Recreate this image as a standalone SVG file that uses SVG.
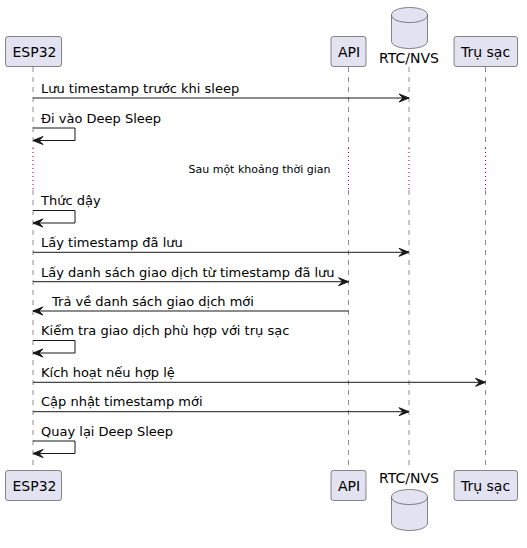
<svg xmlns="http://www.w3.org/2000/svg" width="527" height="548" viewBox="0 0 527 548">
<defs>
<style>
.box{fill:#E2E2F0;stroke:#181818;stroke-width:0.5}
.pt{font-family:"DejaVu Sans",sans-serif;font-size:14px;fill:#000}
.mt{font-family:"DejaVu Sans",sans-serif;font-size:13px;fill:#000}
.dt{font-family:"DejaVu Sans",sans-serif;font-size:11px;fill:#000}
.life{stroke:#181818;stroke-width:0.5;stroke-dasharray:5,5;fill:none}
.delay{stroke:#A80036;stroke-width:1;stroke-dasharray:1,3;fill:none}
.msg{stroke:#181818;stroke-width:1;fill:none}
.head{fill:#181818;stroke:#181818;stroke-width:1}
</style>
<marker id="ah" viewBox="0 0 12 10" refX="11" refY="5" markerWidth="12" markerHeight="10" markerUnits="userSpaceOnUse" orient="auto">
<polygon points="1,1 11,5 1,9 5,5" class="head"/>
</marker>
</defs>
<rect width="527" height="548" fill="#FFFFFF"/>
<g id="lifelines">
<line class="life" x1="33" y1="67" x2="33" y2="148"/><line class="delay" x1="33" y1="148" x2="33" y2="190"/><line class="life" x1="33" y1="190" x2="33" y2="470"/>
<line class="life" x1="348.5" y1="67" x2="348.5" y2="148"/><line class="delay" x1="348.5" y1="148" x2="348.5" y2="190"/><line class="life" x1="348.5" y1="190" x2="348.5" y2="470"/>
<line class="life" x1="409" y1="67" x2="409" y2="148"/><line class="delay" x1="409" y1="148" x2="409" y2="190"/><line class="life" x1="409" y1="190" x2="409" y2="470"/>
<line class="life" x1="485.5" y1="67" x2="485.5" y2="148"/><line class="delay" x1="485.5" y1="148" x2="485.5" y2="190"/><line class="life" x1="485.5" y1="190" x2="485.5" y2="470"/>
</g>
<g id="ESP32">
<rect class="box" x="5.5" y="36.5" width="56" height="30" rx="2.5"/>
<text class="pt" x="12.5" y="56.5">ESP32</text>
<rect class="box" x="5.5" y="470.5" width="56" height="30" rx="2.5"/>
<text class="pt" x="12.5" y="490.5">ESP32</text>
</g>
<g id="API">
<rect class="box" x="331" y="36.5" width="35" height="30" rx="2.5"/>
<text class="pt" x="338" y="56.5">API</text>
<rect class="box" x="331" y="470.5" width="35" height="30" rx="2.5"/>
<text class="pt" x="338" y="490.5">API</text>
</g>
<g id="RTC_NVS">
<path class="box" d="M391.5,15 C391.5,5 427.5,5 427.5,15 L427.5,41 C427.5,51 391.5,51 391.5,41 Z"/>
<path class="box" fill="none" d="M391.5,15 C391.5,25 427.5,25 427.5,15"/>
<text class="pt" x="409" y="63" text-anchor="middle">RTC/NVS</text>
<text class="pt" x="409" y="482.5" text-anchor="middle">RTC/NVS</text>
<path class="box" d="M391.5,497 C391.5,487 427.5,487 427.5,497 L427.5,523 C427.5,533 391.5,533 391.5,523 Z"/>
<path class="box" fill="none" d="M391.5,497 C391.5,507 427.5,507 427.5,497"/>
</g>
<g id="TruSac">
<rect class="box" x="454" y="36.5" width="63.5" height="30" rx="2.5"/>
<text class="pt" x="461" y="56.5">Trụ sạc</text>
<rect class="box" x="454" y="470.5" width="63.5" height="30" rx="2.5"/>
<text class="pt" x="461" y="490.5">Trụ sạc</text>
</g>
<g id="connectors">
<line class="msg" x1="33" y1="98" x2="409" y2="98" marker-end="url(#ah)"/>
<text class="mt" x="41" y="93">Lưu timestamp trước khi sleep</text>
<path class="msg" d="M33,128 H75 V140.5 H33" marker-end="url(#ah)"/>
<text class="mt" x="41" y="122.5">Đi vào Deep Sleep</text>
<text class="dt" x="259.5" y="173" text-anchor="middle">Sau một khoảng thời gian</text>
<path class="msg" d="M33,210.5 H75 V223 H33" marker-end="url(#ah)"/>
<text class="mt" x="41" y="205">Thức dậy</text>
<line class="msg" x1="33" y1="252.3" x2="409" y2="252.3" marker-end="url(#ah)"/>
<text class="mt" x="41" y="247.3">Lấy timestamp đã lưu</text>
<line class="msg" x1="33" y1="281.7" x2="348.5" y2="281.7" marker-end="url(#ah)"/>
<text class="mt" x="41" y="276.7">Lấy danh sách giao dịch từ timestamp đã lưu</text>
<line class="msg" x1="348.5" y1="311" x2="33" y2="311" marker-end="url(#ah)"/>
<text class="mt" x="52" y="305.5">Trả về danh sách giao dịch mới</text>
<path class="msg" d="M33,340.5 H75 V353 H33" marker-end="url(#ah)"/>
<text class="mt" x="41" y="335">Kiểm tra giao dịch phù hợp với trụ sạc</text>
<line class="msg" x1="33" y1="382.3" x2="485.5" y2="382.3" marker-end="url(#ah)"/>
<text class="mt" x="41" y="377">Kích hoạt nếu hợp lệ</text>
<line class="msg" x1="33" y1="411.7" x2="409" y2="411.7" marker-end="url(#ah)"/>
<text class="mt" x="41" y="406.3">Cập nhật timestamp mới</text>
<path class="msg" d="M33,441 H75 V453.5 H33" marker-end="url(#ah)"/>
<text class="mt" x="41" y="435.5">Quay lại Deep Sleep</text>
</g>
</svg>
